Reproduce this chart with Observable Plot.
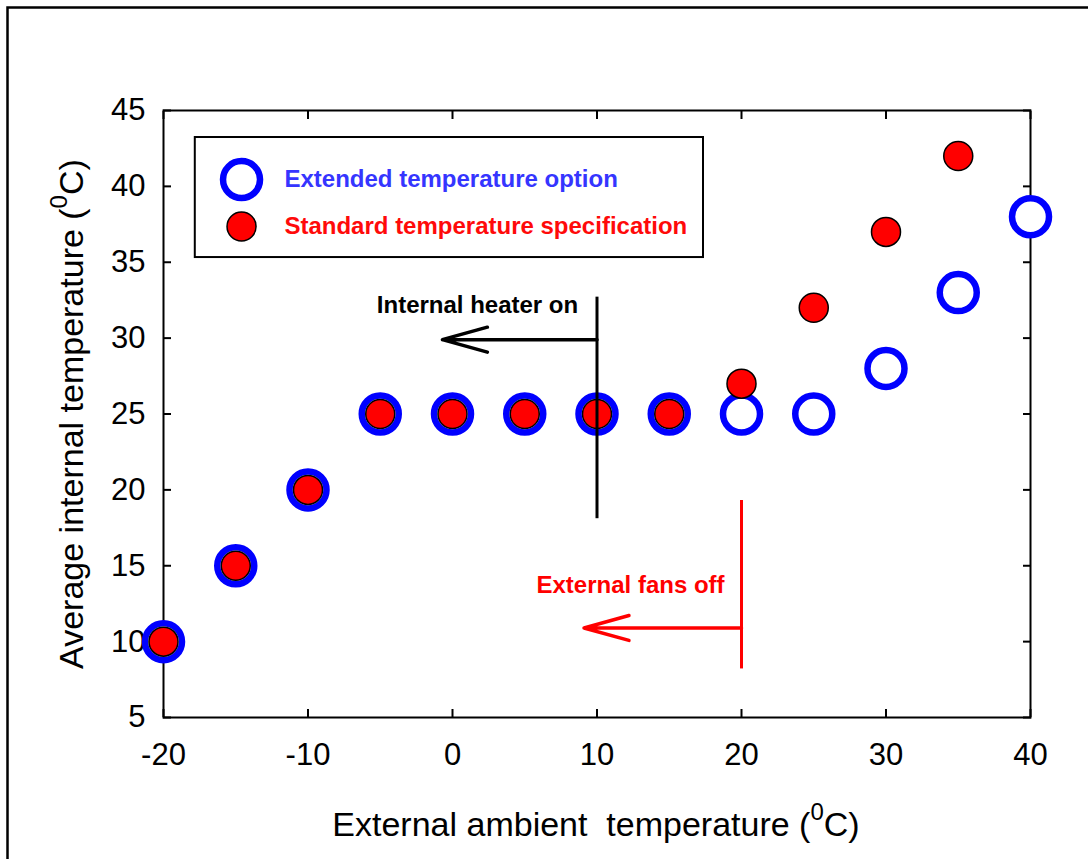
<!DOCTYPE html>
<html>
<head>
<meta charset="utf-8">
<script src="https://cdn.jsdelivr.net/npm/d3@7"></script>
<script src="https://cdn.jsdelivr.net/npm/@observablehq/plot@0.6"></script>
<style>
  html, body { margin: 0; padding: 0; background: #fff; }
  #chart { position: relative; width: 1088px; height: 859px; overflow: hidden; }
</style>
</head>
<body>
<div id="chart"></div>
<script>
// ---- data ----
const ambientExtended = [-20, -15, -10, -5, 0, 5, 10, 15, 20, 25, 30, 35, 40];
const internalExtended = [10, 15, 20, 25, 25, 25, 25, 25, 25, 25, 28, 33, 38];
const ambientStandard = [-20, -15, -10, -5, 0, 5, 10, 15, 20, 25, 30, 35];
const internalStandard = [10, 15, 20, 25, 25, 25, 25, 25, 27, 32, 37, 42];
const xTicks = [-20, -10, 0, 10, 20, 30, 40];
const yTicks = [5, 10, 15, 20, 25, 30, 35, 40, 45];
const seriesNames = ["Extended temperature option", "Standard temperature specification"];
const xLabel = "External ambient\u00a0 temperature (";
const yLabel = "Average internal temperature (";

// annotations (data space)
const annotationText = ["Internal heater on", "External fans off"];
const annotationTextX = [1.73, 12.32];
const annotationTextY = [32.15, 13.7];
const annotationColor = ["#000000", "#ff0000"];
const markerLineX = [10, 20];
const markerLineY1 = [18.1, 8.2];
const markerLineY2 = [32.7, 19.3];
const arrowY = [29.9, 10.9];
const arrowEndX = [-0.7, 9.1];

// legend (data space)
const legendBox = [{x1: -17.8, x2: 17.37, y1: 35.31, y2: 43.22}];
const legendSymbolX = -14.6;
const legendTextX = -11.63;
const legendRowY = [40.45, 37.36];

// ---- tables built from arrays ----
const extended = ambientExtended.map((x, i) => ({x, y: internalExtended[i]}));
const standard = ambientStandard.map((x, i) => ({x, y: internalStandard[i]}));
const annotations = annotationText.map((t, i) => ({
  text: t, tx: annotationTextX[i], ty: annotationTextY[i], color: annotationColor[i],
  lx: markerLineX[i], ly1: markerLineY1[i], ly2: markerLineY2[i],
  ay: arrowY[i], ax2: arrowEndX[i]
}));
const legendRows = seriesNames.map((name, i) => ({name, y: legendRowY[i], i}));

const BLUE = "#0000ff";
const RED = "#ff0000";
const FONT = "'Liberation Sans', Arial, Helvetica, sans-serif";

const plot = Plot.plot({
  width: 1088,
  height: 859,
  marginLeft: 163,
  marginRight: 58,
  marginTop: 110,
  marginBottom: 142,
  style: {fontFamily: FONT, color: "black", background: "white", overflow: "visible"},
  x: {domain: [-20, 40]},
  y: {domain: [5, 45]},
  marks: [
    Plot.frame({stroke: "black", strokeWidth: 2}),
    // labels
    Plot.axisX({anchor: "bottom", ticks: xTicks, tickSize: 0, tickPadding: 25, fontSize: 31, label: null, tickFormat: d => String(d)}),
    Plot.axisY({anchor: "left", ticks: yTicks, tickSize: 0, tickPadding: 18, fontSize: 31, label: null, tickFormat: d => String(d)}),
    // inward ticks on all four sides
    Plot.axisX({anchor: "bottom", ticks: xTicks, tickSize: -8, strokeWidth: 2, tickFormat: () => "", label: null}),
    Plot.axisX({anchor: "top", ticks: xTicks, tickSize: -8, strokeWidth: 2, tickFormat: () => "", label: null}),
    Plot.axisY({anchor: "left", ticks: yTicks, tickSize: -8, strokeWidth: 2, tickFormat: () => "", label: null}),
    Plot.axisY({anchor: "right", ticks: yTicks, tickSize: -8, strokeWidth: 2, tickFormat: () => "", label: null}),
    // legend
    Plot.rect(legendBox, {x1: "x1", x2: "x2", y1: "y1", y2: "y2", fill: "white", stroke: "black", strokeWidth: 2}),
    Plot.dot(legendRows.filter(d => d.i === 0), {x: () => legendSymbolX, y: "y", r: 18.5, stroke: BLUE, strokeWidth: 6.5, fill: "white"}),
    Plot.dot(legendRows.filter(d => d.i === 1), {x: () => legendSymbolX, y: "y", r: 14.5, fill: RED, stroke: "black", strokeWidth: 1.5}),
    Plot.text(legendRows, {x: () => legendTextX, y: "y", text: "name", textAnchor: "start", fontSize: 24, fontWeight: "bold",
      fill: d => d.i === 0 ? "#3535ff" : "#ff0a0a"}),
    // data
    Plot.dot(extended, {x: "x", y: "y", r: 18.5, stroke: BLUE, strokeWidth: 6.5, fill: "white"}),
    Plot.dot(standard, {x: "x", y: "y", r: 14.5, fill: RED, stroke: "black", strokeWidth: 1.5}),
    // annotations
    Plot.ruleX(annotations, {x: "lx", y1: "ly1", y2: "ly2", stroke: "color", strokeWidth: 3}),
    Plot.arrow(annotations, {x1: "lx", x2: "ax2", y1: "ay", y2: "ay", stroke: "color", strokeWidth: 3.5, headLength: 20, headAngle: 31}),
    Plot.text(annotations, {x: "tx", y: "ty", text: "text", fill: "color", fontSize: 24, fontWeight: "bold"})
  ]
});

document.getElementById("chart").appendChild(plot);

// axis titles with superscript degree marks, and the outer border
const svg = d3.select(plot);
const xl = svg.append("text")
  .attr("x", 596).attr("y", 836)
  .attr("text-anchor", "middle")
  .attr("font-family", FONT).attr("font-size", 34).attr("fill", "black");
xl.append("tspan").text(xLabel);
xl.append("tspan").attr("font-size", 24).attr("dy", -16).text("0");
xl.append("tspan").attr("dy", 16).text("C)");

const yl = svg.append("text")
  .attr("transform", "translate(83,414) rotate(-90)")
  .attr("text-anchor", "middle")
  .attr("font-family", FONT).attr("font-size", 34).attr("fill", "black");
yl.append("tspan").text(yLabel);
yl.append("tspan").attr("font-size", 24).attr("dy", -16).text("0");
yl.append("tspan").attr("dy", 16).text("C)");

svg.append("rect")
  .attr("x", 7.5).attr("y", 7.5).attr("width", 1300).attr("height", 1000)
  .attr("fill", "none").attr("stroke", "black").attr("stroke-width", 2.5);
</script>
</body>
</html>
